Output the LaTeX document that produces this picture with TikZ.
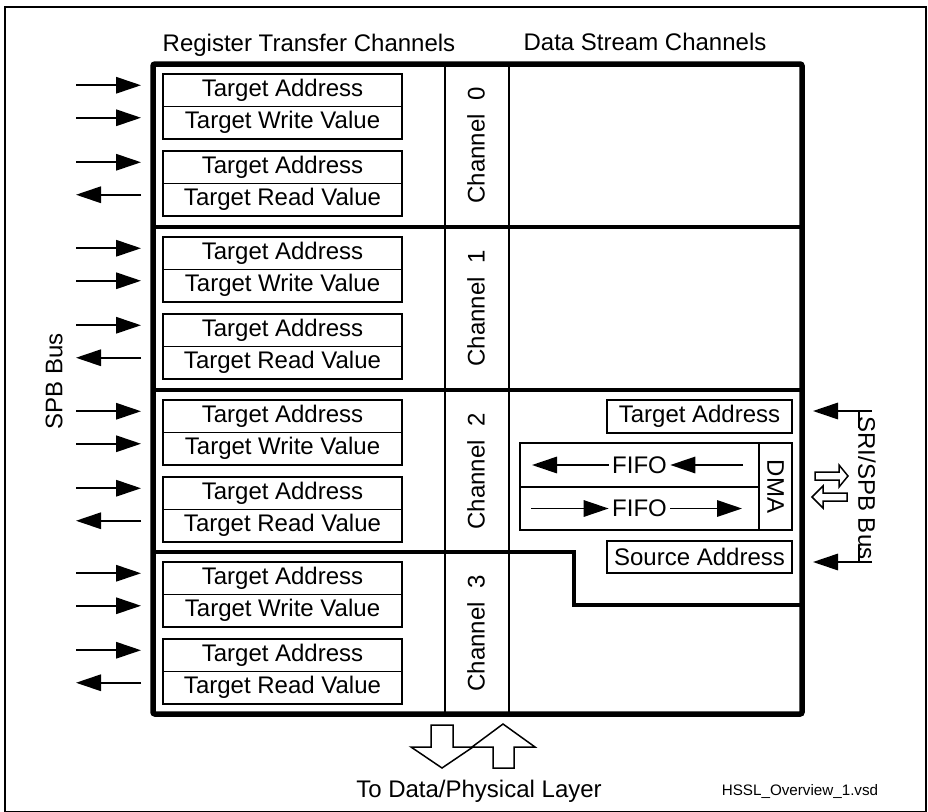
\documentclass[tikz,border=0pt]{standalone}
\usepackage{fontspec}
\setmainfont{Liberation Sans}
\usetikzlibrary{arrows.meta, calc, positioning}

\begin{document}
\begin{tikzpicture}[
  x=1pt, y=-1pt,
  font=\fontsize{24}{28}\selectfont,
  frame/.style={draw, line width=5.5pt, rounded corners=2pt, inner sep=0pt},
  divider/.style={line width=3.8pt},
  thin/.style={line width=1.5pt},
  reg/.style={draw, line width=1.5pt, minimum width=239pt, minimum height=32.5pt,
    inner sep=0pt, outer sep=0pt},
  bus/.style={-{Triangle[length=25pt, width=16.5pt]}, line width=1.6pt},
  hollow/.style={draw, line width=1.5pt, fill=white, line join=miter},
  title/.style={anchor=base, inner sep=0pt},
  chlabel/.style={rotate=90, inner sep=0pt},
]

\useasboundingbox (0,0) rectangle (928,811);
\draw[thin] (5,7) rectangle (926,812);

\node[title] (rtc) at (309,51) {Register Transfer Channels};
\node[title] (dsc) at (645,50) {Data Stream Channels};

\node[frame, minimum width=649pt, minimum height=650pt] (hssl) at (477.5,389) {};

% channel borders
\draw[divider] (153,227) -- (802,227);
\draw[divider] (153,390) -- (802,390);
\draw[line width=3.2pt] (153,552) -- (574,552) -- (574,605) -- (802,605);
\draw[thin] (445,64) -- (445,714);
\draw[thin] (509,64) -- (509,714);

\foreach \ch/\top in {0/64, 1/227, 2/390, 3/552} {
  \node[reg, anchor=north west] (ta\ch) at (163,\top+10) {Target Address};
  \node[reg, below=0pt of ta\ch] (wv\ch) {Target Write Value};
  \node[reg, anchor=north west] (ra\ch) at (163,\top+87) {Target Address};
  \node[reg, below=0pt of ra\ch] (rv\ch) {Target Read Value};
  \node[chlabel] (ch\ch) at (476,\top+81.5) {Channel~~\ch};

  \draw[bus] ($(ta\ch.west)+(-87,-5)$) -- ($(ta\ch.west)+(-22,-5)$);
  \draw[bus] ($(wv\ch.west)+(-87,-5)$) -- ($(wv\ch.west)+(-22,-5)$);
  \draw[bus] ($(ra\ch.west)+(-87,-5)$) -- ($(ra\ch.west)+(-22,-5)$);
  \draw[bus] ($(rv\ch.west)+(-22,-5)$) -- ($(rv\ch.west)+(-87,-5)$);
}

\node[chlabel] (spb) at (54,381) {SPB Bus};

% data stream part of channel 2
\node[reg, minimum width=185pt, minimum height=33pt, anchor=north west] (dsta) at (607,400) {Target Address};
\node[reg, minimum width=185pt, minimum height=32pt, anchor=north west] (dssa) at (607,541) {Source Address};
\node[reg, minimum height=44pt, anchor=north west] (rxrow) at (520,443) {};
\node[reg, minimum height=43pt, below=0pt of rxrow] (txrow) {};
\node[reg, rotate=-90, minimum width=87pt, minimum height=33pt] (dma) at (775.5,486.5) {DMA};
\node (fifoRx) at (rxrow.center) {FIFO};
\node (fifoTx) at (txrow.center) {FIFO};

\draw[bus] ($(rxrow.east)+(-16,0)$) -- (fifoRx.east);
\draw[bus] (fifoRx.west) -- ($(rxrow.west)+(12,0)$);
\draw[bus] ($(txrow.west)+(11,0)$) -- (fifoTx.west);
\draw[bus] (fifoTx.east) -- ($(txrow.east)+(-17,0)$);

\node[rotate=-90, inner sep=0pt] (sri) at (867,488) {SRI/SPB Bus};
\coordinate (sriTop) at (872,411);
\coordinate (sriBot) at (872,562);
\draw[bus] (sriTop) -- ($(dsta.east)+(21,-5.5)$);
\draw[bus] (sriBot) -- ($(dssa.east)+(21,5)$);
\draw[thin] (859,411) -- (859,428);
\draw[thin] (859,545) -- (859,562);

\draw[hollow] (815,472) -- (839,472) -- (839,465) -- (848,476) -- (839,487) -- (839,480) -- (815,480) -- cycle;
\draw[hollow] (847,493) -- (823,493) -- (823,486) -- (812,497) -- (823,508) -- (823,501) -- (847,501) -- cycle;

% to the physical layer
\draw[hollow] (431,725) -- (453,725) -- (453,747) -- (473,747) -- (442,768) -- (411,747) -- (431,747) -- cycle;
\draw[hollow] (493,768) -- (514,768) -- (514,747) -- (535,747) -- (503,724) -- (472,747) -- (493,747) -- cycle;

\node[title] (phys) at (479,797) {To Data/Physical Layer};
\node[title, font=\fontsize{15.2}{18}\selectfont] (vsd) at (800,795) {HSSL\_Overview\_1.vsd};

\end{tikzpicture}
\end{document}
